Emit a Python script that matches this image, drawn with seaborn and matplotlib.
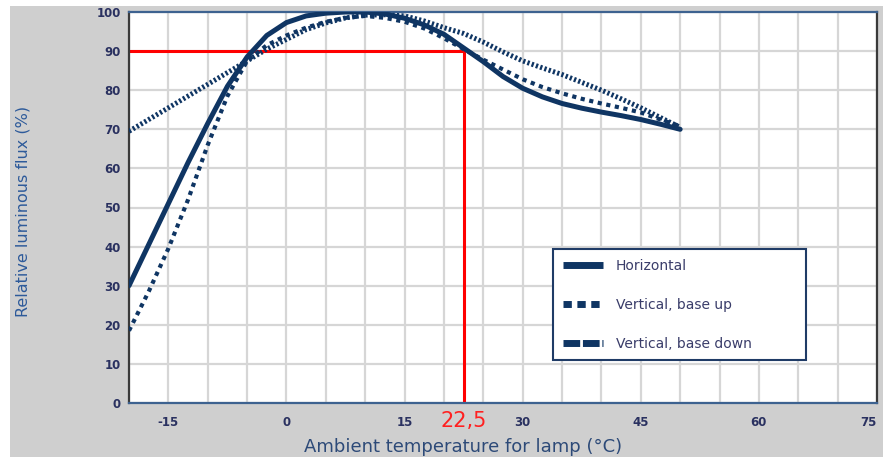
import matplotlib
matplotlib.use("Agg")
import matplotlib.pyplot as plt
import seaborn as sns
import pandas as pd
from matplotlib.lines import Line2D
from matplotlib.patches import Rectangle

# ---- data ----
temps_h = [-20, -17.5, -15, -12.5, -10, -7.5, -5, -2.5, 0, 2.5, 5, 7.5, 10, 12.5, 15,
           17.5, 20, 22.5, 25, 27.5, 30, 32.5, 35, 37.5, 40, 42.5, 45, 47.5, 50]
flux_horizontal = [30, 40.5, 51, 61.5, 71.5, 81, 88.5, 94, 97.3, 99, 99.7, 100, 100, 99.5, 98.4,
                   96.7, 94.3, 90.8, 87.3, 83.5, 80.5, 78.3, 76.6, 75.4, 74.4, 73.5, 72.5, 71.3, 70]
flux_base_up = [18.5, 28.5, 39.5, 52, 66, 78.5, 87.5, 91.5, 94, 96, 97.5, 98.5, 99, 98.5, 97.5,
                95.8, 93.3, 90.5, 87.8, 85.3, 82.8, 80.8, 79.2, 77.8, 76.6, 75.5, 74.3, 72.5, 70.8]
flux_base_down = [69.5, 72.5, 75.5, 78.5, 81.5, 84.5, 87.5, 90.5, 93, 95.5, 97.2, 98.5, 99.2, 99.3, 99,
                  97.7, 96, 94.5, 92.3, 89.8, 87.5, 85.7, 84, 82, 80, 77.8, 75.5, 73, 70.5]
series_names = ["Horizontal", "Vertical, base up", "Vertical, base down"]
marker_temp = 22.5
marker_flux = 90
x_ticks = [-15, 0, 15, 30, 45, 60, 75]
y_ticks = [0, 10, 20, 30, 40, 50, 60, 70, 80, 90, 100]

df = pd.concat([
    pd.DataFrame({"temp": temps_h, "flux": flux_horizontal, "series": series_names[0]}),
    pd.DataFrame({"temp": temps_h, "flux": flux_base_up, "series": series_names[1]}),
    pd.DataFrame({"temp": temps_h, "flux": flux_base_down, "series": series_names[2]}),
])

navy = "#0f3563"
sns.set_theme(style="white")
plt.rcParams["font.family"] = ["DejaVu Sans"]

fig = plt.figure(figsize=(8.83, 4.57), dpi=100)
fig.patch.set_facecolor("white")
fig.add_artist(Rectangle((10 / 883, 0), 1, 1 - 6 / 457, transform=fig.transFigure,
                         facecolor="#cfcfcf", edgecolor="none", zorder=-10))
ax = fig.add_axes([129 / 883, 1 - 403 / 457, 748 / 883, 391 / 457])
ax.set_facecolor("white")

palette = {n: navy for n in series_names}
dashes = {series_names[0]: "", series_names[1]: (1, 1.1), series_names[2]: (0.45, 0.45)}
sns.lineplot(data=df, x="temp", y="flux", hue="series", style="series",
             palette=palette, dashes=dashes, ax=ax, linewidth=3, legend=False,
             sort=False, zorder=3)
for line in ax.lines:
    line.set_solid_capstyle("round")
    line.set_dash_capstyle("butt")
ax.lines[0].set_linewidth(3.6)
ax.lines[2].set_linewidth(3.6)

# red marker lines
ax.plot([-20, marker_temp], [marker_flux, marker_flux], color="#ff0000", lw=2.2, zorder=2)
ax.plot([marker_temp, marker_temp], [0, marker_flux], color="#ff0000", lw=2.2, zorder=2)

ax.set_xlim(-20, 75)
ax.set_ylim(0, 100)
ax.grid(True, color="#d6d6d6", lw=1.6, zorder=0)
ax.set_axisbelow(True)
ax.set_yticks(y_ticks)
ax.set_xticks(list(range(-20, 76, 5)))
xlabels = [str(v) if v in x_ticks else "" for v in range(-20, 76, 5)]
ax.set_xticklabels(xlabels)
ax.tick_params(axis="both", length=0, labelsize=8.5, labelcolor="#2a3160")
ax.tick_params(axis="x", pad=9)
ax.tick_params(axis="y", pad=6)
for lab in ax.get_xticklabels() + ax.get_yticklabels():
    lab.set_fontweight("bold")
ax.get_xticklabels()[-1].set_horizontalalignment("right")

ax.spines["left"].set_color("#3a3a3a")
ax.spines["right"].set_color("#3a3a3a")
ax.spines["top"].set_color("#3d6290")
ax.spines["bottom"].set_color("#3d6290")
for s in ax.spines.values():
    s.set_linewidth(1.6)
    s.set_visible(True)

ax.text(marker_temp, -2.0, "22,5", color="#ff2020", fontsize=15, ha="center", va="top",
        transform=ax.transData, clip_on=False)

ax.set_xlabel("Ambient temperature for lamp (°C)", fontsize=13, color="#2d4a78")
ax.xaxis.set_label_coords((463 - 129) / 748, -0.09)
ax.set_ylabel("Relative luminous flux (%)", fontsize=11.5, color="#2d5a9a")
ax.yaxis.set_label_coords(-0.132, 0.49)

handles = [
    Line2D([], [], color=navy, lw=5, solid_capstyle="butt"),
    Line2D([], [], color=navy, lw=5, dashes=(1.2, 0.8), dash_capstyle="butt"),
    Line2D([], [], color=navy, lw=5, dashes=(2.4, 0.4, 2.4, 0.4, 1.0, 0.4), dash_capstyle="butt"),
]
leg = ax.legend(handles, series_names, loc="upper left",
                bbox_to_anchor=((553 - 129) / 748, (403 - 249) / 391, (806 - 553) / 748, 0.0),
                mode="expand", borderaxespad=0, fontsize=10, labelspacing=1.8,
                handlelength=2.9, handletextpad=0.9, borderpad=0.7, fancybox=False,
                framealpha=1, facecolor="white", edgecolor="#1f3b66", labelcolor="#3a3d6a")
leg.get_frame().set_linewidth(1.5)
leg.set_zorder(5)

fig.savefig("out.png", dpi=100, facecolor=fig.get_facecolor())
